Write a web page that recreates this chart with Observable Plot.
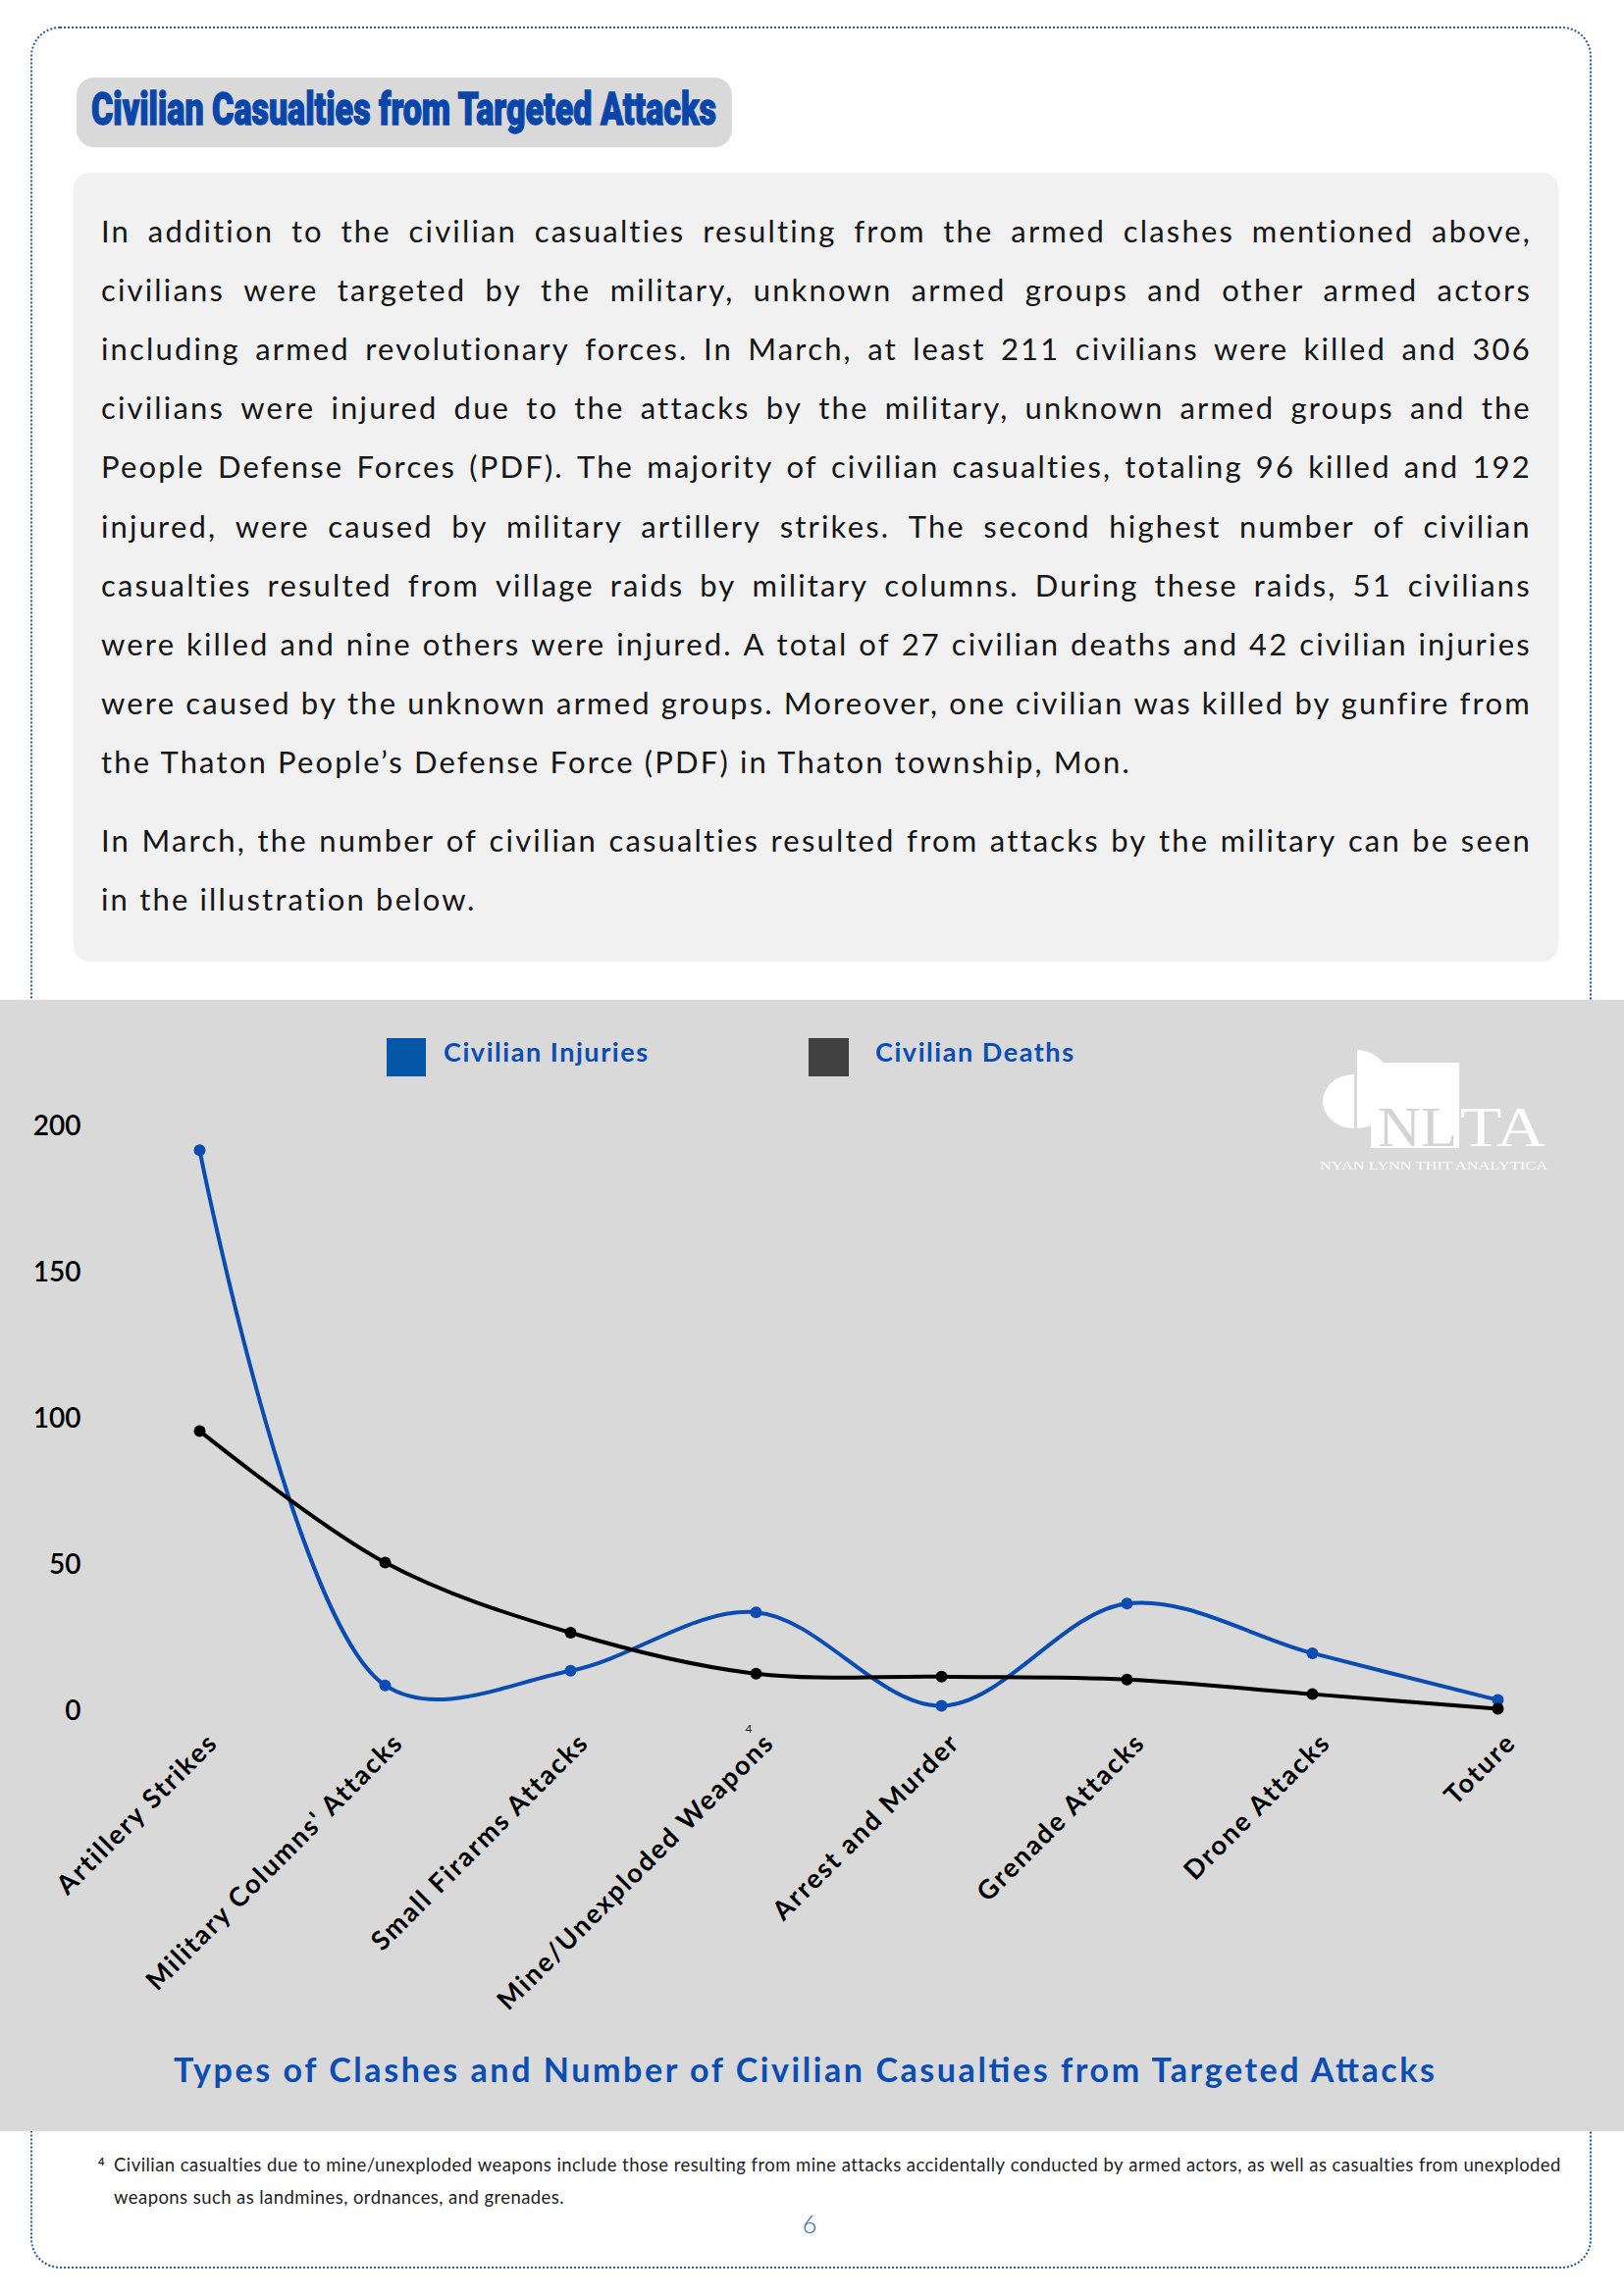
<!DOCTYPE html>
<html><head><meta charset="utf-8">
<script src="https://cdn.jsdelivr.net/npm/d3@7"></script>
<script src="https://cdn.jsdelivr.net/npm/@observablehq/plot@0.6"></script>
<style>
html,body{margin:0;padding:0;background:#fff;}
#page{position:relative;width:1655px;height:2340px;overflow:hidden;font-family:Lato,"Noto Sans",sans-serif;}
.abs{position:absolute;}
#frame{left:31px;top:27px;width:1591px;height:2285px;border:2.5px dotted #2459b3;border-radius:30px;box-sizing:border-box;}
#titlebox{left:78px;top:79px;width:668px;height:71px;background:#d9d9d9;border-radius:18px;}
#textbox{left:75px;top:176px;width:1513px;height:804px;background:#f1f1f1;border-radius:16px;}
#band{left:0;top:1019px;width:1655px;height:1153px;background:#d9d9d9;}
.bl{position:absolute;left:103px;width:1458px;font-size:31px;line-height:31px;height:31px;color:#161616;white-space:pre;display:flex;}
.bl.j{justify-content:space-between;}
.fn{position:absolute;left:116px;width:1475px;font-size:18.5px;line-height:18.5px;height:19px;color:#1e1e1e;white-space:pre;display:flex;}
.fn.j{justify-content:space-between;}
#overlay{left:0;top:0;}
#chart{left:0;top:1019px;}
</style>
</head><body>
<div id="page">
  <div id="frame" class="abs"></div>
  <div id="titlebox" class="abs"></div>
  <div id="textbox" class="abs"></div>
  <div id="band" class="abs"></div>
  <div id="body"></div>
  <div id="chart" class="abs"></div>
  <svg id="overlay" class="abs" width="1655" height="2340">
    <text x="93" y="127" font-family="Roboto, 'DejaVu Sans', sans-serif" font-weight="900" font-size="46" fill="#0a46aa" stroke="#0a46aa" stroke-width="1.3" textLength="637" lengthAdjust="spacingAndGlyphs">Civilian Casualties from Targeted Attacks</text>
    <rect id="legInj" x="394" y="1058" width="40" height="39" fill="#0556a8"/>
    <text id="legInjT" x="452" y="1082" font-family="Lato, sans-serif" font-weight="700" font-size="27" fill="#0b4db3" textLength="208" lengthAdjust="spacing"></text>
    <rect id="legDea" x="824" y="1058" width="41" height="39" fill="#404040"/>
    <text id="legDeaT" x="892" y="1082" font-family="Lato, sans-serif" font-weight="700" font-size="27" fill="#0b4db3" textLength="202" lengthAdjust="spacing"></text>
    <g transform="translate(1330,1050)">
      <path d="M50,45 A32,27.5 0 0 0 50,100 Z" fill="#fff"/>
      <path d="M53,20 A36,40 0 0 1 53,100 Z" fill="#fff"/>
      <rect x="67" y="33" width="90" height="87" fill="#fff"/>
      <text x="74" y="118" font-family="'Liberation Serif', serif" font-size="57" fill="#d4d4d4" textLength="81" lengthAdjust="spacingAndGlyphs">NL</text>
      <text x="158" y="118" font-family="'Liberation Serif', serif" font-size="57" fill="#fff" textLength="87" lengthAdjust="spacingAndGlyphs">TA</text>
      <text x="15" y="142" font-family="'Liberation Serif', serif" font-size="13" fill="#fff" textLength="232" lengthAdjust="spacingAndGlyphs">NYAN LYNN THIT ANALYTICA</text>
    </g>
    <text x="763" y="1766" font-family="Lato, sans-serif" font-size="12" fill="#222" text-anchor="middle">4</text>
    <text x="177" y="2122" font-family="Lato, sans-serif" font-weight="700" font-size="34" fill="#0b4db3" textLength="1285" lengthAdjust="spacing">Types of Clashes and Number of Civilian Casualties from Targeted Attacks</text>
    <text x="100" y="2207" font-family="Lato, sans-serif" font-weight="700" font-size="11" fill="#222">4</text>
    <text x="825" y="2276" font-family="Lato, sans-serif" font-weight="300" font-size="25" fill="#1f5bb5" text-anchor="middle">6</text>
  </svg>
</div>
<script>
// ---- chart data ----
const categories = ["Artillery Strikes", "Military Columns' Attacks", "Small Firarms Attacks", "Mine/Unexploded Weapons", "Arrest and Murder", "Grenade Attacks", "Drone Attacks", "Toture"];
const injuries = [192, 9, 14, 34, 2, 37, 20, 4];
const deaths = [96, 51, 27, 13, 12, 11, 6, 1];
const yTicks = [0, 50, 100, 150, 200];
const seriesNames = ["Civilian Injuries", "Civilian Deaths"];

// ---- page text ----
const para1 = [
  "In addition to the civilian casualties resulting from the armed clashes mentioned above,",
  "civilians were targeted by the military, unknown armed groups and other armed actors",
  "including armed revolutionary forces. In March, at least 211 civilians were killed and 306",
  "civilians were injured due to the attacks by the military, unknown armed groups and the",
  "People Defense Forces (PDF). The majority of civilian casualties, totaling 96 killed and 192",
  "injured, were caused by military artillery strikes. The second highest number of civilian",
  "casualties resulted from village raids by military columns. During these raids, 51 civilians",
  "were killed and nine others were injured. A total of 27 civilian deaths and 42 civilian injuries",
  "were caused by the unknown armed groups. Moreover, one civilian was killed by gunfire from",
  "the Thaton People\u2019s Defense Force (PDF) in Thaton township, Mon."
];
const para2 = [
  "In March, the number of civilian casualties resulted from attacks by the military can be seen",
  "in the illustration below."
];
const footLines = [
  "Civilian casualties due to mine/unexploded weapons include those resulting from mine attacks accidentally conducted by armed actors, as well as casualties from unexploded",
  "weapons such as landmines, ordnances, and grenades."
];

document.getElementById("legInjT").textContent = seriesNames[0];
document.getElementById("legDeaT").textContent = seriesNames[1];

const bodyDiv = document.getElementById("body");
const page = document.getElementById("page");

function measure(text, ls, size) {
  const s = document.createElement("span");
  s.style.cssText = `position:absolute;visibility:hidden;white-space:pre;font-family:Lato,sans-serif;font-size:${size}px;letter-spacing:${ls}px`;
  s.textContent = text;
  page.appendChild(s);
  const w = s.getBoundingClientRect().width;
  s.remove();
  return w;
}
function tuneSpacing(lastText, target, size, justifiedLines, boxW, minSpace) {
  let v = (target - measure(lastText, 0, size)) / lastText.length;
  for (const t of justifiedLines) {
    const n = t.length, sp = t.split(" ").length - 1;
    const w0 = measure(t.replace(/ /g, ""), 0, size);
    const maxV = (boxW - w0 - sp * minSpace) / n;
    if (v > maxV) v = maxV;
  }
  return Math.max(0, v);
}
const lsBody = tuneSpacing(para1[9], 1050, 31, para1.slice(0, 9).concat(para2.slice(0, 1)), 1458, 6);
const lsFoot = tuneSpacing(footLines[1], 459, 18.5, footLines.slice(0, 1), 1475, 4);

function addLine(text, baseline, justify, cls, size, ls) {
  const d = document.createElement("div");
  d.className = cls + (justify ? " j" : "");
  d.style.top = (baseline - size * 0.887) + "px";
  d.style.letterSpacing = ls + "px";
  if (justify) {
    for (const w of text.split(" ")) {
      const s = document.createElement("span");
      s.textContent = w;
      d.appendChild(s);
    }
  } else {
    d.textContent = text;
  }
  bodyDiv.appendChild(d);
}
para1.forEach((t, i) => addLine(t, 247 + 60.2 * i, i < para1.length - 1, "bl", 31, lsBody));
para2.forEach((t, i) => addLine(t, 868 + 60.2 * i, i < para2.length - 1, "bl", 31, lsBody));
footLines.forEach((t, i) => addLine(t, 2213 + 33 * i, i === 0, "fn", 18.5, lsFoot));

// ---- chart ----
const BLUE = "#0a4cb2";
const injRows = categories.map((c, i) => ({cat: c, v: injuries[i], s: seriesNames[0]}));
const deathRows = categories.map((c, i) => ({cat: c, v: deaths[i], s: seriesNames[1]}));

const chart = Plot.plot({
  width: 1655, height: 1040,
  marginLeft: 200, marginRight: 127, marginTop: 129, marginBottom: 315,
  style: {background: "transparent", fontFamily: "Lato, sans-serif", overflow: "visible"},
  x: {type: "point", domain: categories, padding: 0, axis: null},
  y: {domain: [0, 200], label: null},
  marks: [
    Plot.axisY(yTicks, {tickSize: 0, tickPadding: 118, fontSize: 28, fontWeight: 600, color: "#000", label: null}),
    Plot.text(categories, {x: d => d, frameAnchor: "bottom", rotate: -45, textAnchor: "end", lineAnchor: "middle", dx: 14, dy: 27, fontSize: 27, fontWeight: 700, fill: "#000"}),
    Plot.line(injRows, {x: "cat", y: "v", stroke: BLUE, strokeWidth: 4, curve: "catmull-rom"}),
    Plot.dot(injRows, {x: "cat", y: "v", r: 6, fill: BLUE}),
    Plot.line(deathRows, {x: "cat", y: "v", stroke: "#000", strokeWidth: 4, curve: "catmull-rom"}),
    Plot.dot(deathRows, {x: "cat", y: "v", r: 6, fill: "#000"})
  ]
});
chart.querySelectorAll('g[aria-label="text"] text').forEach(t => t.style.letterSpacing = "2px");
document.getElementById("chart").appendChild(chart);
</script>
</body></html>
